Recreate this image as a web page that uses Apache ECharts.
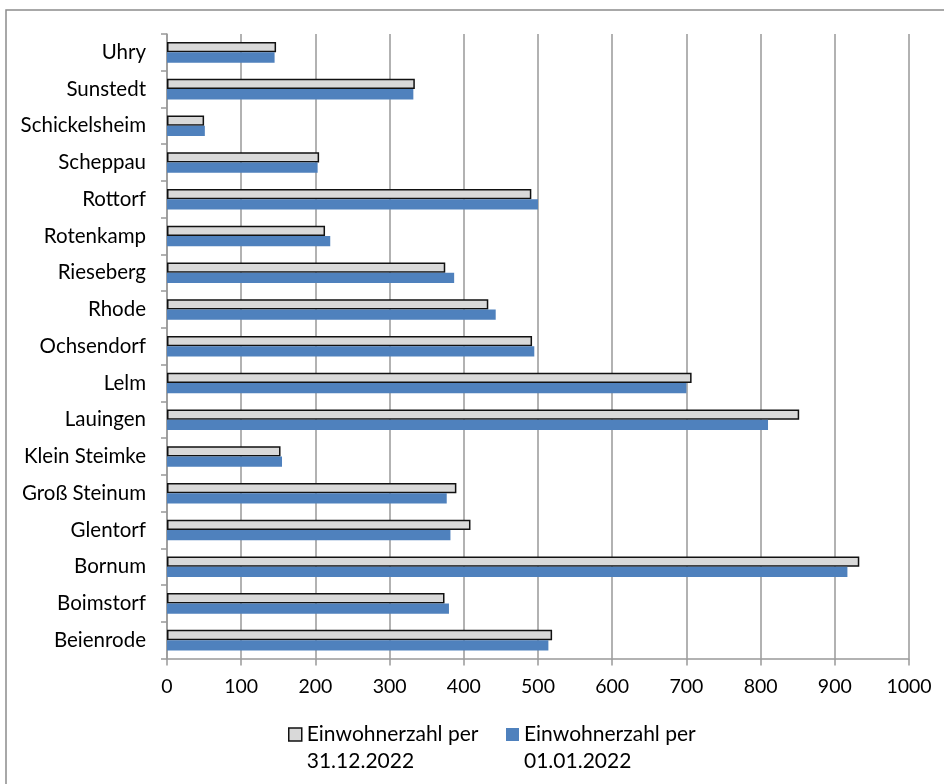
<!DOCTYPE html>
<html>
<head>
<meta charset="utf-8">
<script src="https://cdn.jsdelivr.net/npm/echarts@6/dist/echarts.min.js"></script>
<style>html,body{margin:0;padding:0;background:#fff}#c{width:944px;height:784px}</style>
</head>
<body>
<div id="c"></div>
<script>
const categories = ["Beienrode","Boimstorf","Bornum","Glentorf","Groß Steinum","Klein Steimke","Lauingen","Lelm","Ochsendorf","Rhode","Rieseberg","Rotenkamp","Rottorf","Scheppau","Schickelsheim","Sunstedt","Uhry"];
const seriesNames = ["Einwohnerzahl per 31.12.2022","Einwohnerzahl per 01.01.2022"];
const values2022End = [519,374,933,409,390,153,852,707,492,433,375,213,491,205,50,334,147];
const values2022Start = [514,380,917,382,377,155,810,700,495,443,387,220,500,203,51,332,145];
const xTicks = {min:0,max:1000,interval:100};

const FONT = 'Lato';
const chart = echarts.init(document.getElementById('c'), null, {renderer:'canvas'});
const legendText = {fontFamily: FONT, fontSize: 21, color: '#000', lineHeight: 27};
const fmt = n => ' \n' + n.replace(' per ', ' per\n');
const legendBase = {
  top: 689, itemWidth: 13, itemHeight: 13, itemGap: 0, itemStyle: {borderWidth: 1.5},
  icon: 'rect', textStyle: legendText, formatter: fmt
};
chart.setOption({
  animation: false,
  backgroundColor: '#fff',
  graphic: [{
    type: 'rect', shape: {x: 6, y: 10, width: 1000, height: 900},
    style: {fill: 'none', stroke: '#8c8c8c', lineWidth: 1.5}, silent: true, z: -10
  }],
  grid: {left: 167, right: 35, top: 34, bottom: 125.5, containLabel: false},
  legend: [
    Object.assign({data: [seriesNames[0]], left: 283}, legendBase),
    Object.assign({data: [seriesNames[1]], left: 501}, legendBase)
  ],
  xAxis: {
    type: 'value', min: xTicks.min, max: xTicks.max, interval: xTicks.interval,
    axisLine: {show: true, lineStyle: {color: '#999', width: 1.5}},
    axisTick: {show: true, length: 7, lineStyle: {color: '#999', width: 1.5}},
    axisLabel: {fontFamily: FONT, fontSize: 19.5, color: '#000', margin: 18, formatter: v => String(v)},
    splitLine: {show: true, lineStyle: {color: '#999', width: 1.5}}
  },
  yAxis: {
    type: 'category', data: categories,
    axisLine: {show: true, lineStyle: {color: '#999', width: 1.5}},
    axisTick: {show: true, length: 6, lineStyle: {color: '#999', width: 1.5}},
    axisLabel: {fontFamily: FONT, fontSize: 20.5, color: '#000', margin: 21},
    splitLine: {show: false}
  },
  series: [{
    name: seriesNames[0], type: 'bar', data: values2022End,
    barWidth: '28%', barGap: '0%',
    itemStyle: {color: '#d9d9d9', borderColor: '#111', borderWidth: 1.5}
  },{
    name: seriesNames[1], type: 'bar', data: values2022Start,
    barWidth: '28%', barGap: '0%',
    itemStyle: {color: '#4f81bd'}
  }]
});
</script>
</body>
</html>
